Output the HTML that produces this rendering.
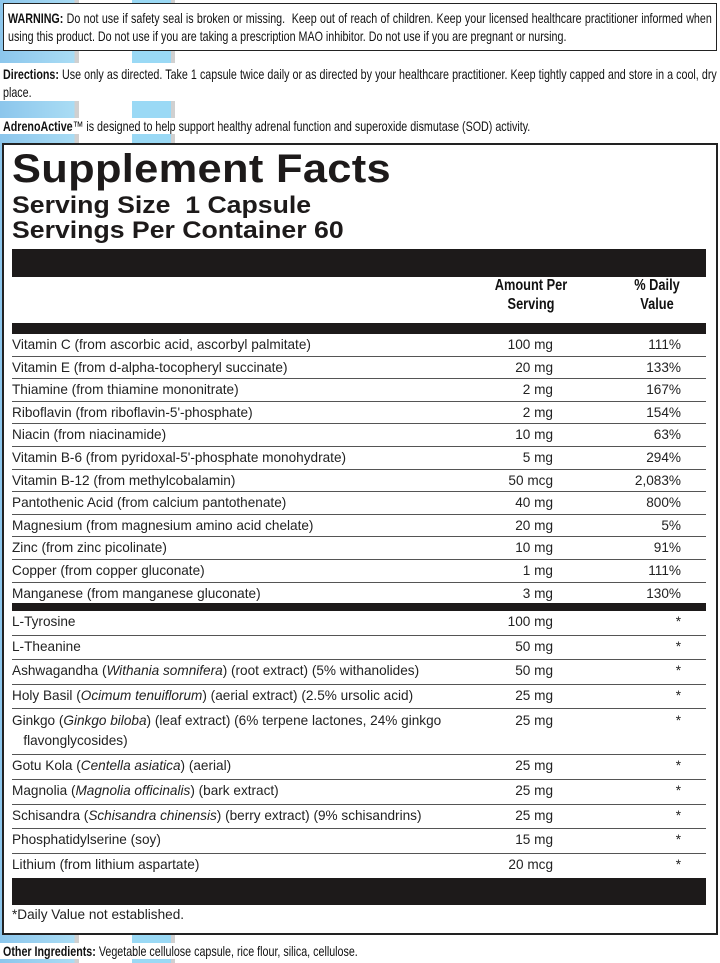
<!DOCTYPE html>
<html><head><meta charset="utf-8">
<style>
*{margin:0;padding:0;box-sizing:border-box}
body{width:720px;height:963px;position:relative;overflow:hidden;font-family:"Liberation Sans",Arial,sans-serif;color:#222;
background:linear-gradient(90deg,#8cc6ec 0,#a9dcf4 74px,#d0d0d0 75px,#d0d0d0 79px,#fff 79px,#fff 132px,#9ad9f5 132px,#9ad9f5 171px,#d0d0d0 171px,#d0d0d0 175px,#fff 175px)}
.n{font-family:"Liberation Sans",Arial,sans-serif;font-size:14px;color:#111;white-space:nowrap;transform:scaleX(0.765);transform-origin:left}
.j{text-align:justify;text-align-last:justify}
.abs{position:absolute}
.w{background:#fff}
.bar{position:absolute;left:12px;width:694px;background:#1d1a1a}
.row{position:absolute;left:12px;width:694px;font-size:13.6px;border-bottom:1px solid #555;white-space:nowrap}
.row .a{position:absolute;right:153px;text-align:right}
.row .d{position:absolute;right:25px;text-align:right}
.row .l{position:absolute;left:0}
.h{position:absolute;width:140px;text-align:center;font-size:16px;font-weight:bold;line-height:19px;color:#111;transform:scaleX(0.8)}
</style></head><body>
<div class="abs w" style="left:3px;top:3px;width:714px;height:48px;border:1.5px solid #222"></div>
<div class="abs n j" style="left:8px;top:9px;line-height:18px;width:920px"><b>WARNING:</b> Do not use if safety seal is broken or missing.&nbsp; Keep out of reach of children. Keep your licensed healthcare practitioner informed when</div>
<div class="abs n" style="left:8px;top:27px;line-height:18px">using this product. Do not use if you are taking a prescription MAO inhibitor. Do not use if you are pregnant or nursing.</div>
<div class="abs w" style="left:0;top:63px;width:720px;height:38px"></div>
<div class="abs n j" style="left:3px;top:65px;line-height:18px;width:933px"><b>Directions:</b> Use only as directed. Take 1 capsule twice daily or as directed by your healthcare practitioner. Keep tightly capped and store in a cool, dry</div>
<div class="abs n" style="left:3px;top:83px;line-height:18px">place.</div>
<div class="abs w" style="left:0;top:118px;width:720px;height:16px"></div>
<div class="abs n" style="left:3px;top:118px;line-height:16px"><b>AdrenoActive</b>™ is designed to help support healthy adrenal function and superoxide dismutase (SOD) activity.</div>

<div class="abs w" style="left:2px;top:143px;width:716px;height:792px;border:2px solid #222"></div>
<div class="abs" style="left:12px;top:147px;font-size:40px;font-weight:bold;letter-spacing:0.3px;color:#1d1a1a;transform:scaleX(1.085);transform-origin:left">Supplement Facts</div>
<div class="abs" style="left:12px;top:193px;font-size:24px;font-weight:bold;line-height:25px;color:#1d1a1a;transform:scaleX(1.11);transform-origin:left">Serving Size&nbsp; 1 Capsule<br>Servings Per Container 60</div>
<div class="bar" style="top:249px;height:28px"></div>
<div class="h" style="left:461px;top:276px">Amount Per<br>Serving</div>
<div class="h" style="left:587px;top:276px">% Daily<br>Value</div>
<div class="bar" style="top:323px;height:11px"></div>

<div class="row" style="top:334px;height:22.6px;line-height:22px"><span class="l">Vitamin C (from ascorbic acid, ascorbyl palmitate)</span><span class="a">100 mg</span><span class="d">111%</span></div>
<div class="row" style="top:356.6px;height:22.6px;line-height:22px"><span class="l">Vitamin E (from d-alpha-tocopheryl succinate)</span><span class="a">20 mg</span><span class="d">133%</span></div>
<div class="row" style="top:379.2px;height:22.6px;line-height:22px"><span class="l">Thiamine (from thiamine mononitrate)</span><span class="a">2 mg</span><span class="d">167%</span></div>
<div class="row" style="top:401.8px;height:22.6px;line-height:22px"><span class="l">Riboflavin (from riboflavin-5'-phosphate)</span><span class="a">2 mg</span><span class="d">154%</span></div>
<div class="row" style="top:424.4px;height:22.6px;line-height:22px"><span class="l">Niacin (from niacinamide)</span><span class="a">10 mg</span><span class="d">63%</span></div>
<div class="row" style="top:447px;height:22.6px;line-height:22px"><span class="l">Vitamin B-6 (from pyridoxal-5'-phosphate monohydrate)</span><span class="a">5 mg</span><span class="d">294%</span></div>
<div class="row" style="top:469.6px;height:22.6px;line-height:22px"><span class="l">Vitamin B-12 (from methylcobalamin)</span><span class="a">50 mcg</span><span class="d">2,083%</span></div>
<div class="row" style="top:492.2px;height:22.6px;line-height:22px"><span class="l">Pantothenic Acid (from calcium pantothenate)</span><span class="a">40 mg</span><span class="d">800%</span></div>
<div class="row" style="top:514.8px;height:22.6px;line-height:22px"><span class="l">Magnesium (from magnesium amino acid chelate)</span><span class="a">20 mg</span><span class="d">5%</span></div>
<div class="row" style="top:537.4px;height:22.6px;line-height:22px"><span class="l">Zinc (from zinc picolinate)</span><span class="a">10 mg</span><span class="d">91%</span></div>
<div class="row" style="top:560px;height:22.6px;line-height:22px"><span class="l">Copper (from copper gluconate)</span><span class="a">1 mg</span><span class="d">111%</span></div>
<div class="row" style="top:582.6px;height:22.6px;line-height:22px;border:none"><span class="l">Manganese (from manganese gluconate)</span><span class="a">3 mg</span><span class="d">130%</span></div>
<div class="bar" style="top:603px;height:8px"></div>

<div class="row" style="top:611px;height:24.6px;line-height:22px"><span class="l">L-Tyrosine</span><span class="a">100 mg</span><span class="d">*</span></div>
<div class="row" style="top:635.6px;height:24.6px;line-height:22px"><span class="l">L-Theanine</span><span class="a">50 mg</span><span class="d">*</span></div>
<div class="row" style="top:660.2px;height:24.6px;line-height:22px"><span class="l">Ashwagandha (<i>Withania somnifera</i>) (root extract) (5% withanolides)</span><span class="a">50 mg</span><span class="d">*</span></div>
<div class="row" style="top:684.8px;height:24.6px;line-height:22px"><span class="l">Holy Basil (<i>Ocimum tenuiflorum</i>) (aerial extract) (2.5% ursolic acid)</span><span class="a">25 mg</span><span class="d">*</span></div>
<div class="row" style="top:709.4px;height:46px;line-height:20px"><span class="l" style="top:2px">Ginkgo (<i>Ginkgo biloba</i>) (leaf extract) (6% terpene lactones, 24% ginkgo<br>&nbsp;&nbsp;&nbsp;flavonglycosides)</span><span class="a" style="top:2px">25 mg</span><span class="d" style="top:2px">*</span></div>
<div class="row" style="top:755.4px;height:24.6px;line-height:22px"><span class="l">Gotu Kola (<i>Centella asiatica</i>) (aerial)</span><span class="a">25 mg</span><span class="d">*</span></div>
<div class="row" style="top:780px;height:24.6px;line-height:22px"><span class="l">Magnolia (<i>Magnolia officinalis</i>) (bark extract)</span><span class="a">25 mg</span><span class="d">*</span></div>
<div class="row" style="top:804.6px;height:24.6px;line-height:22px"><span class="l">Schisandra (<i>Schisandra chinensis</i>) (berry extract) (9% schisandrins)</span><span class="a">25 mg</span><span class="d">*</span></div>
<div class="row" style="top:829.2px;height:24.6px;line-height:22px"><span class="l">Phosphatidylserine (soy)</span><span class="a">15 mg</span><span class="d">*</span></div>
<div class="row" style="top:853.8px;height:24.6px;line-height:22px;border:none"><span class="l">Lithium (from lithium aspartate)</span><span class="a">20 mcg</span><span class="d">*</span></div>
<div class="bar" style="top:878px;height:27px"></div>
<div class="abs" style="left:12px;top:906px;font-size:13.6px;line-height:18px">*Daily Value not established.</div>

<div class="abs w" style="left:0;top:943px;width:360px;height:16px"></div>
<div class="abs n" style="left:3px;top:943px;line-height:16px"><b>Other Ingredients:</b> Vegetable cellulose capsule, rice flour, silica, cellulose.</div>
</body></html>
